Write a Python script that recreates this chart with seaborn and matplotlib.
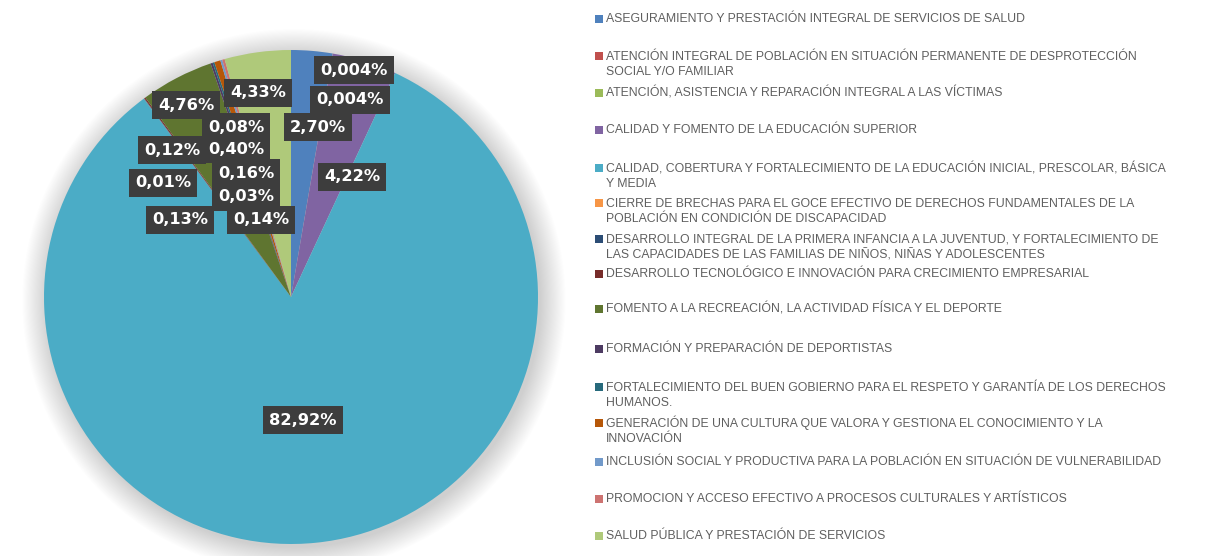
import numpy as np
import matplotlib
matplotlib.use("Agg")
import matplotlib.pyplot as plt
import seaborn as sns
from matplotlib.patches import Circle, Rectangle

# --------------------------------------------
# Data
# --------------------------------------------
categories = [
    "ASEGURAMIENTO Y PRESTACIÓN INTEGRAL DE SERVICIOS DE SALUD",
    "ATENCIÓN INTEGRAL DE POBLACIÓN EN SITUACIÓN PERMANENTE DE DESPROTECCIÓN\nSOCIAL Y/O FAMILIAR",
    "ATENCIÓN, ASISTENCIA Y REPARACIÓN INTEGRAL A LAS VÍCTIMAS",
    "CALIDAD Y FOMENTO DE LA EDUCACIÓN SUPERIOR",
    "CALIDAD, COBERTURA Y FORTALECIMIENTO DE LA EDUCACIÓN INICIAL, PRESCOLAR, BÁSICA\nY MEDIA",
    "CIERRE DE BRECHAS PARA EL GOCE EFECTIVO DE DERECHOS FUNDAMENTALES DE LA\nPOBLACIÓN EN CONDICIÓN DE DISCAPACIDAD",
    "DESARROLLO INTEGRAL DE LA PRIMERA INFANCIA A LA JUVENTUD, Y FORTALECIMIENTO DE\nLAS CAPACIDADES DE LAS FAMILIAS DE NIÑOS, NIÑAS Y ADOLESCENTES",
    "DESARROLLO TECNOLÓGICO E INNOVACIÓN PARA CRECIMIENTO EMPRESARIAL",
    "FOMENTO A LA RECREACIÓN, LA ACTIVIDAD FÍSICA Y EL DEPORTE",
    "FORMACIÓN Y PREPARACIÓN DE DEPORTISTAS",
    "FORTALECIMIENTO DEL BUEN GOBIERNO PARA EL RESPETO Y GARANTÍA DE LOS DERECHOS\nHUMANOS.",
    "GENERACIÓN DE UNA CULTURA QUE VALORA Y GESTIONA EL CONOCIMIENTO Y LA\nINNOVACIÓN",
    "INCLUSIÓN SOCIAL Y PRODUCTIVA PARA LA POBLACIÓN EN SITUACIÓN DE VULNERABILIDAD",
    "PROMOCION Y ACCESO EFECTIVO A PROCESOS CULTURALES Y ARTÍSTICOS",
    "SALUD PÚBLICA Y PRESTACIÓN DE SERVICIOS",
]
values = [2.70, 0.004, 0.004, 4.22, 82.92, 0.01, 0.03, 0.08, 4.76,
          0.14, 0.12, 0.40, 0.13, 0.16, 4.33]
colors = ["#4F81BD", "#C0504D", "#9BBB59", "#8064A2", "#4BACC6",
          "#F79646", "#2C4D75", "#772C2A", "#5F7530", "#4D3B62",
          "#276A7C", "#B65708", "#729ACA", "#CD7371", "#AFC97A"]

# hand placed data label centres (pie radius = 1), like in the source
label_pos = [(0.109, 0.688), (0.255, 0.919), (0.239, 0.798), (0.247, 0.486),
             (0.049, -0.498), (-0.518, 0.462), (-0.182, 0.405), (-0.223, 0.688),
             (-0.425, 0.777), (-0.121, 0.312), (-0.482, 0.595), (-0.223, 0.599),
             (-0.449, 0.312), (-0.182, 0.502), (-0.134, 0.826)]
# legend rows: first line centre, pixels from top
legend_y = [18, 55, 92, 129, 167, 202, 238, 273, 308, 348, 386, 422, 461, 498, 535]

W, H = 1212, 556

sns.set_theme(style="white")
plt.rcParams['font.family'] = ['Liberation Sans', 'DejaVu Sans']

fig = plt.figure(figsize=(W / 100, H / 100), dpi=100)
fig.patch.set_facecolor("white")

# pie axes: centre (291, 297) px, radius 247 px
cx, cy, r = 291, 297, 247
ax = fig.add_axes([(cx - r) / W, (H - cy - r) / H, 2 * r / W, 2 * r / H])

# soft shadow behind the pie
for rr in np.linspace(1.10, 1.0, 24):
    ax.add_patch(Circle((0.012, -0.015), rr, color="black", alpha=0.009,
                        lw=0, zorder=0, clip_on=False))

wedges, _ = ax.pie(values, colors=colors, startangle=90, counterclock=False,
                   radius=1, wedgeprops=dict(linewidth=0))
ax.set_xlim(-1, 1)
ax.set_ylim(-1, 1)
ax.set_aspect("equal")
ax.axis("off")

for i, (v, (x, y)) in enumerate(zip(values, label_pos)):
    txt = (f"{v:.3f}" if v < 0.01 else f"{v:.2f}").replace(".", ",") + "%"
    ax.text(x, y, txt, ha="center", va="center", color="white",
            fontsize=11.7, fontweight="bold", family="DejaVu Sans",
            bbox=dict(boxstyle="square,pad=0.38", fc="#3d3d3d", ec="none"),
            zorder=5 + i)

# legend, Excel style (fixed rows, wrapped names)
line_px = 16
for cat, col, y in zip(categories, colors, legend_y):
    n = cat.count("\n")
    fig.add_artist(Rectangle((595 / W, 1 - (y + 5) / H), 8 / W, 8 / H,
                             transform=fig.transFigure, color=col, lw=0))
    fig.text(606 / W, 1 - (y + 4 + n * line_px) / H, cat, ha="left",
             va="baseline", fontsize=8.8, color="#5f5f5f",
             linespacing=line_px / (8.8 * 100 / 72))

fig.savefig("out.png", dpi=100, facecolor="white")
plt.close()
